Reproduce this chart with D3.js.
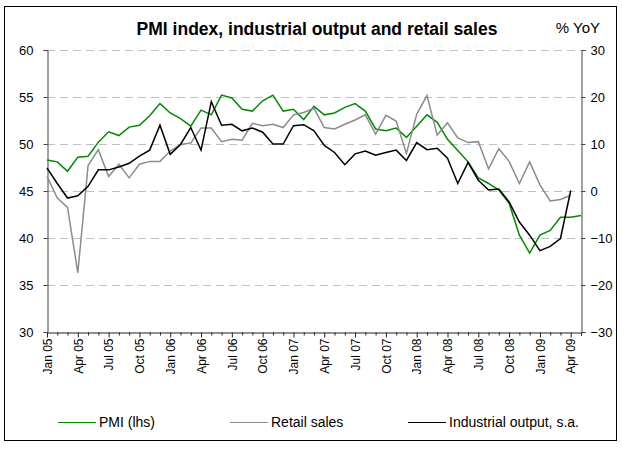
<!DOCTYPE html>
<html>
<head>
<meta charset="utf-8">
<script src="https://cdn.jsdelivr.net/npm/d3@7"></script>
<style>
  body { margin: 0; background: #fff; }
  svg { display: block; font-family: "Liberation Sans", Arial, sans-serif; }
</style>
</head>
<body>
<div id="chart"></div>
<script>
// months Jan 05 .. May 09
const months = [
  "Jan 05","Feb 05","Mar 05","Apr 05","May 05","Jun 05","Jul 05","Aug 05","Sep 05","Oct 05","Nov 05","Dec 05",
  "Jan 06","Feb 06","Mar 06","Apr 06","May 06","Jun 06","Jul 06","Aug 06","Sep 06","Oct 06","Nov 06","Dec 06",
  "Jan 07","Feb 07","Mar 07","Apr 07","May 07","Jun 07","Jul 07","Aug 07","Sep 07","Oct 07","Nov 07","Dec 07",
  "Jan 08","Feb 08","Mar 08","Apr 08","May 08","Jun 08","Jul 08","Aug 08","Sep 08","Oct 08","Nov 08","Dec 08",
  "Jan 09","Feb 09","Mar 09","Apr 09","May 09"
];
const tickLabels = ["Jan 05","Apr 05","Jul 05","Oct 05","Jan 06","Apr 06","Jul 06","Oct 06","Jan 07","Apr 07",
  "Jul 07","Oct 07","Jan 08","Apr 08","Jul 08","Oct 08","Jan 09","Apr 09"];

// PMI, left axis
const pmi = [48.3, 48.1, 47.1, 48.6, 48.7, 50.2, 51.3, 50.9, 51.8, 52.0, 53.0, 54.3, 53.3, 52.7, 51.9, 53.6,
  53.1, 55.2, 54.9, 53.7, 53.5, 54.6, 55.2, 53.5, 53.7, 52.6, 54.0, 53.1, 53.3, 53.9, 54.3, 53.5,
  51.6, 51.4, 51.7, 50.7, 51.9, 53.1, 52.3, 50.5, 49.3, 48.1, 46.4, 45.8, 45.1, 43.7, 40.3, 38.4,
  40.3, 40.8, 42.2, 42.2, 42.4];
// retail sales, % YoY, right axis
const retail = [3.1, -1.5, -3.5, -17.4, 5.4, 8.8, 3.1, 5.7, 2.8, 5.7, 6.3, 6.3, 8.5, 9.9, 10.2, 13.4,
  13.4, 10.5, 11.0, 10.8, 14.4, 13.9, 14.2, 13.5, 16.2, 16.7, 17.6, 13.5, 13.2, 14.2, 15.1, 16.2,
  12.1, 16.1, 14.9, 8.0, 16.3, 20.3, 11.9, 14.5, 11.3, 10.3, 10.5, 4.7, 9.0, 6.3, 1.6, 6.2,
  1.3, -2.1, -1.8, -0.9];
// industrial output, s.a., % YoY, right axis
const industrial = [4.9, 1.6, -1.5, -1.0, 1.0, 4.5, 4.5, 5.1, 5.9, 7.4, 8.7, 14.0, 7.8, 9.9, 13.5, 8.7,
  19.0, 14.0, 14.2, 12.8, 13.4, 12.5, 10.0, 10.0, 13.9, 14.1, 12.8, 9.7, 8.2, 5.6, 7.9, 8.5,
  7.6, 8.2, 8.7, 6.5, 10.3, 8.8, 9.1, 7.0, 1.6, 6.1, 2.3, 0.2, 0.4, -2.3, -6.6, -9.4,
  -12.7, -11.8, -10.1, 0.1];

const leftTicks = [30, 35, 40, 45, 50, 55, 60];
const rightTicks = [-30, -20, -10, 0, 10, 20, 30];

const W = 622, H = 450;
const m = { left: 47, right: 581, top: 50, bottom: 332 };

const svg = d3.select("#chart").append("svg").attr("width", W).attr("height", H);

svg.append("rect")
  .attr("x", 4.5).attr("y", 6.5).attr("width", 612).attr("height", 434)
  .attr("fill", "none").attr("stroke", "#000").attr("stroke-width", 1);

const x = d3.scalePoint().domain(months).range([m.left, m.right]);
const yL = d3.scaleLinear().domain([30, 60]).range([m.bottom, m.top]);
const yR = d3.scaleLinear().domain([-30, 30]).range([m.bottom, m.top]);

// gridlines
svg.append("g")
  .selectAll("line")
  .data(leftTicks.filter(d => d > 30))
  .join("line")
  .attr("x1", m.left).attr("x2", m.right)
  .attr("y1", d => Math.round(yL(d)) + 0.5).attr("y2", d => Math.round(yL(d)) + 0.5)
  .attr("stroke", "#c0c0c0").attr("stroke-dasharray", "8,5");

// axes
const axL = svg.append("g").attr("transform", `translate(${m.left + 0.5},0)`)
  .call(d3.axisLeft(yL).tickValues(leftTicks).tickSize(4).tickPadding(10));
const axR = svg.append("g").attr("transform", `translate(${m.right + 0.5},0)`)
  .call(d3.axisRight(yR).tickValues(rightTicks).tickSize(4).tickPadding(5));
[axL, axR].forEach(g => {
  g.select(".domain").attr("stroke", "#444");
  g.selectAll(".tick line").attr("stroke", "#444");
  g.selectAll("text").attr("font-size", 13).attr("font-family", "Liberation Sans, Arial").attr("fill", "#000");
});

const axB = svg.append("g").attr("transform", `translate(0,${m.bottom + 0.5})`)
  .call(d3.axisBottom(x).tickSize(3).tickFormat(""));
axB.select(".domain").attr("stroke", "#222");
axB.selectAll(".tick line").attr("stroke", "#222")
  .attr("y2", d => tickLabels.includes(d) ? 5 : 3);
axB.selectAll(".tick")
  .filter(d => tickLabels.includes(d))
  .append("text")
  .attr("transform", "translate(0,6) rotate(-90)")
  .attr("text-anchor", "end")
  .attr("dy", "0.35em")
  .attr("font-size", 12)
  .attr("fill", "#000")
  .text(d => d);

// lines
const lineL = d3.line().x((d, i) => x(months[i])).y(d => yL(d));
const lineR = d3.line().x((d, i) => x(months[i])).y(d => yR(d));

svg.append("path").datum(pmi).attr("d", lineL)
  .attr("fill", "none").attr("stroke", "#008a00").attr("stroke-width", 1.5);
svg.append("path").datum(retail).attr("d", lineR)
  .attr("fill", "none").attr("stroke", "#8c8c8c").attr("stroke-width", 1.5);
svg.append("path").datum(industrial).attr("d", lineR)
  .attr("fill", "none").attr("stroke", "#000").attr("stroke-width", 1.5);

// title
svg.append("text").attr("x", 317).attr("y", 35).attr("text-anchor", "middle")
  .attr("font-size", 17.5).attr("font-weight", "bold").text("PMI index, industrial output and retail sales");
svg.append("text").attr("x", 600).attr("y", 33).attr("text-anchor", "end")
  .attr("font-size", 15).text("% YoY");

// legend
const legend = [
  { name: "PMI (lhs)", color: "#008a00", x: 58 },
  { name: "Retail sales", color: "#8c8c8c", x: 230 },
  { name: "Industrial output, s.a.", color: "#000", x: 408 }
];
const lg = svg.append("g").selectAll("g").data(legend).join("g")
  .attr("transform", d => `translate(${d.x},422)`);
lg.append("line").attr("x1", 0).attr("x2", 38).attr("y1", 0.5).attr("y2", 0.5)
  .attr("stroke", d => d.color).attr("stroke-width", 1.2);
lg.append("text").attr("x", 41).attr("dy", "0.35em").attr("font-size", 14)
  .text(d => d.name);
</script>
</body>
</html>
